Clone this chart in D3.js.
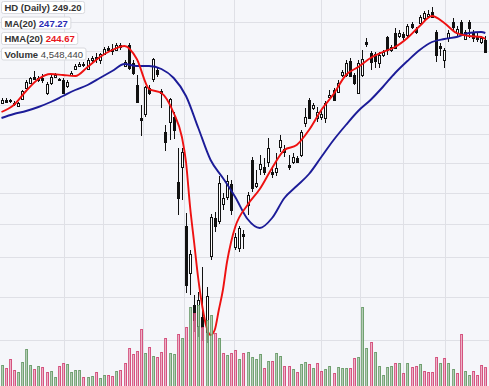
<!DOCTYPE html>
<html><head><meta charset="utf-8">
<script src="https://cdn.jsdelivr.net/npm/d3@7"></script>
<style>
html,body{margin:0;padding:0;background:#f5f6fa;}
svg{display:block}
</style></head><body>
<svg id="c" width="489" height="386"></svg>
<script>
// ---- data (daily bars) ----
const opens = [224.8,226,225.6,224.8,223.6,226.4,230.8,232.8,235.2,234,234.8,228.8,232.8,235.2,234.4,234,231.6,236,238.4,239.6,240.4,238.4,242,243.2,242,244.4,246.8,246.4,246,248,239.6,248,240.8,232,218.8,220.4,230.8,234.4,238,229.6,213.2,217.2,219.2,193.2,199.2,175.6,156.8,144,135.6,139.2,133.2,163.6,178.8,177.6,184.4,187.2,192.4,167.2,166.8,172.4,184,202,191.6,198.4,199.2,201.2,197.2,197.2,207.2,206.4,200,201.2,202.8,204,216.8,226,222.8,218.8,219.2,218.8,227.2,230,229.2,236,236,241.6,236,228.8,236,249.2,244.8,244.4,240.8,244,251.2,246,252.8,251.6,252.4,252,256.4,254.4,256.8,258.8,259.6,261.2,253.2,247.6,242,250.8,257.2,252.8,257.2,250.4,257.2,252.8,251.6,249.2,250];
const highs = [226.8,226.8,226.4,225.6,225.2,230,234,235.2,237.6,235.6,236.4,233.2,236,236.8,234.8,234.8,234,237.6,240.4,241.2,241.2,242.8,243.6,244.8,244.8,247.2,247.6,248.4,248.8,248.8,242,248.8,242,236,224,231.6,232,242.8,239.2,230.4,216,226.8,221.2,206.8,206.8,180.8,166,148,149.2,159.2,151.2,180.4,181.2,195.6,188.8,196,194,172.8,175.6,174,189.2,203.2,198,204,202.8,210.8,199.6,204.8,212,208,204,204.8,203.6,214,222.8,226.8,224.8,223.2,221.6,225.6,230,230.8,234,238,242,242.8,236.8,242,246,250.8,245.6,245.2,245.2,246,251.6,248,254.8,254,253.2,256.4,257.2,255.2,260,261.6,262,263.2,254,248.8,246.8,254,258.8,255.6,258,254,258,254,252.8,251.6,251.6];
const lows = [224.4,224.8,224.8,223.6,223.2,226,230.4,232.4,234,233.2,232.8,228,232,234.8,233.6,228.4,230.8,235.6,238,239.2,239.2,238,241.2,240.8,240.4,244,245.2,244,245.6,246,239.2,238,236,224.8,211.6,219.2,228,233.2,235.2,222.8,205.6,210,210.4,180,186,148.8,148,133.2,131.2,129.6,128.8,162,173.2,176.4,182,186,180,166,165.2,166.4,180,189.2,190.8,196,196,199.2,194.8,195.6,205.2,203.2,198,200.4,200.8,203.2,215.2,218.8,222,217.2,218,216.8,226.8,225.6,228.8,235.2,235.2,235.2,232,228.4,235.2,247.2,238,238.8,238.8,243.2,244,245.2,246.4,250.8,250,251.2,254.4,252.4,256,258,258.8,258.8,241.2,243.6,238.8,249.2,254,251.6,251.6,250,250.8,249.2,249.2,248.4,244.8];
const closes = [226,225.2,225.8,224.4,224.8,229.6,233.2,234.8,234.4,234.6,234,232.4,235.2,236,234,228.8,233.2,236.8,239.6,240.4,240,242,242.8,242.4,244.4,246.4,246,245.6,248,247.2,241.2,238.8,236.8,225.2,218,231.2,228.8,242.4,236.4,228.8,209.2,226.4,214,186.8,205.2,152,164.4,138,146,135.2,147.6,179.2,175.6,192.8,186.8,193.6,182,171.2,174.8,171.6,188,190.8,192.8,200.4,197.2,206.8,196.4,198.8,210,205.2,199.2,203.2,201.2,213.2,219.2,218.8,224,221.2,220.4,224.8,228,226,232.8,237.2,240.8,235.6,232.8,240.8,242.4,248.4,241.2,241.6,244,245.2,246,247.2,246.8,252.8,251.2,255.6,255.2,253.2,259.2,260.8,260.4,259.2,244,246.8,246,252.8,255.2,254.4,252.8,253.2,254.8,250.8,250.4,250.8,245.2];
const volumes = [5.25,4.5,6.75,4,3.5,6,9.25,5.25,4.25,5,4.75,3.5,3.75,2.25,5,5.75,5.5,3.5,4,4,2.25,2.25,2.5,3.5,2,2.75,2.75,2.5,3.75,4,5.75,9.5,8,8.75,14.25,8.25,9.75,7.5,7.25,8.5,12,8.25,8,13,12,14.75,19.75,18.25,20.25,14.75,16.5,17.75,13.25,12,8.25,7.75,8.25,9,6.75,8.25,8.5,7.25,6.75,8,4.5,6.25,6.25,8.25,7.5,5,5,4.25,3.5,5.5,6,5.5,4.5,5.75,3.75,4.25,5,3.25,4.75,4.5,4.5,4.5,7,7.25,19.75,9.5,11,8.5,5,2.75,4.75,5,5.75,5.75,3.25,5.75,4.75,5,5.5,3.75,3.5,3.5,7.25,5.75,7,5.75,4.25,3.25,13,3.75,2.75,3.75,2.75,5.25,4.548]; // millions
const volumeUp = [1,0,0,0,1,1,1,1,0,1, 0,0,1,1,0,0,1,1,1,1, 0,1,1,0,1,1,0,0,1,0, 0,0,0,0,0,1,0,1,0,0, 0,1,1,0,1,0,1,0,1,0, 1,1,0,1,0,1,0,0,1,0, 1,1,1,1,0,1,0,1,1,0, 0,1,0,1,1,0,1,0,0,1, 1,0,1,1,1,0,0,1,1,1, 0,1,1,1,1,1,0,1,0,1, 0,0,1,0,0,0,0,1,0,1, 1,0,0,1,1,0,0,0,0];
const maIdx = [0,3,6,9,12,15,18,21,24,27,30,33,36,39,42,45,48,51,54,57,60,63,66,69,72,75,78,81,84,87,90,93,96,99,102,105,108,111,114,117,118];
const maVals = [218.8,220.4,221.6,223.2,225.2,227.6,230,232,234.8,237.6,240.4,239.6,239.6,238.4,234.8,227.6,214.8,202,194.8,187.2,178.4,174.8,178.8,186.8,191.6,196.4,203.2,210,216,221.6,226,231.2,236.8,241.6,246,249.2,250.4,251.2,252.8,253.2,252.8];
const hmaIdx = [0,3,6,9,12,15,18,21,24,27,30,33,36,39,42,44,45,46,47,48,49,50,51,52,53,54,55,56,57,60,63,66,69,72,75,78,81,84,87,90,93,96,99,102,105,108,111,114,117,118];
const hmaVals = [221.2,224,229.6,234.4,236.4,236,235.6,239.2,243.2,246,247.6,242.4,230.4,228.8,220.8,211.2,201.2,183.2,168.8,154.4,143.2,135.2,132,134,142,150,161.2,169.2,175.2,184,190.4,198.8,206,208,214,222,228.4,236,239.2,242.8,245.2,247.2,250.8,255.6,259.6,256.8,252.8,251.6,251.2,250.4];
const gridDays = [15.25,24.75,34.5,44.5,56.75,78,87.5,98,108.25];
const gridPrices = [257.2,245.6,234.8,224,212.4,200.8,188.8,176.4,163.2,147.2,130];
const legendLabels = ["HD (Daily)","MA(20)","HMA(20)","Volume"];
const legendValues = ["249.20","247.27","244.67","4,548,440"];

// ---- drawing ----
const W = 489, H = 386;
const svg = d3.select("#c");
const n = closes.length;
const x = d3.scaleLinear().domain([0, n - 1]).range([1.5, 485.3]);
const y = d3.scaleLinear().domain([130, 262]).range([340, 10]);
const yv = d3.scaleLinear().domain([0, 22]).range([386, 298]);

svg.append("rect").attr("width", W).attr("height", H).attr("fill", "#f5f6fa");

const grid = svg.append("g").attr("stroke", "#dfe0e6").attr("stroke-width", 1).attr("shape-rendering", "crispEdges");
grid.selectAll("line.v").data(gridDays).join("line").attr("class","v")
  .attr("x1", d => Math.round(x(d)) + 0.5).attr("x2", d => Math.round(x(d)) + 0.5)
  .attr("y1", 0).attr("y2", H);
grid.selectAll("line.h").data(gridPrices).join("line").attr("class","h")
  .attr("x1", 0).attr("x2", W)
  .attr("y1", d => Math.round(y(d)) + 0.5).attr("y2", d => Math.round(y(d)) + 0.5);

const idx = d3.range(n);
const cx = i => Math.round(x(i));

// candles
const cg = svg.append("g").attr("shape-rendering", "crispEdges");
cg.selectAll("line.wick").data(idx).join("line").attr("class","wick")
  .attr("x1", i => cx(i) + 0.5).attr("x2", i => cx(i) + 0.5)
  .attr("y1", i => y(highs[i])).attr("y2", i => y(lows[i]))
  .attr("stroke", "#111").attr("stroke-width", 1);
cg.selectAll("rect.body").data(idx).join("rect").attr("class","body")
  .attr("x", i => cx(i) - 0.5).attr("width", 2)
  .attr("y", i => Math.min(y(opens[i]), y(closes[i])))
  .attr("height", i => Math.max(1, Math.abs(y(opens[i]) - y(closes[i]))))
  .attr("fill", i => closes[i] >= opens[i] ? "#ffffff" : "#111")
  .attr("stroke", "#111").attr("stroke-width", 1);

// moving averages
const line = d3.line().curve(d3.curveMonotoneX);
svg.append("path")
  .attr("d", line(maIdx.map((d, k) => [x(d), y(maVals[k])])))
  .attr("fill", "none").attr("stroke", "#1c1c98").attr("stroke-width", 1.9);
svg.append("path")
  .attr("d", line(hmaIdx.map((d, k) => [x(d), y(hmaVals[k])])))
  .attr("fill", "none").attr("stroke", "#ee1111").attr("stroke-width", 1.9);

// volume
const vg = svg.append("g").attr("shape-rendering", "crispEdges");
vg.selectAll("rect").data(idx).join("rect")
  .attr("x", i => cx(i) - 0.5).attr("width", 2)
  .attr("y", i => yv(volumes[i])).attr("height", i => yv(0) - yv(volumes[i]) + 2)
  .attr("fill", i => volumeUp[i] ? "#9dbf9d" : "#e99ab6")
  .attr("fill-opacity", 0.75)
  .attr("stroke", i => volumeUp[i] ? "#5a905a" : "#cc3366")
  .attr("stroke-opacity", 0.75).attr("stroke-width", 1);

// legend
const valueColors = ["#333", "#2a2ab4", "#e8141c", "#444"];
const lg = svg.append("g").attr("font-family", "'Liberation Sans', Arial, sans-serif").attr("font-size", 9.5).attr("font-weight", "bold");
legendLabels.forEach((lab, k) => {
  const top = 1.5 + k * 15.5;
  const g = lg.append("g");
  const r = g.append("rect").attr("x", 1.5).attr("y", top).attr("height", 12).attr("rx", 2)
    .attr("fill", "#fff").attr("fill-opacity", 0.92).attr("stroke", "#d8d9de");
  const t = g.append("text").attr("x", 4.5).attr("y", top + 9.5).attr("fill", "#333");
  t.append("tspan").text(lab + " ");
  t.append("tspan").attr("fill", valueColors[k]).attr("font-weight", k === 3 ? "normal" : "bold").text(legendValues[k]);
  r.attr("width", t.node().getComputedTextLength() + 6);
});
</script></body></html>
